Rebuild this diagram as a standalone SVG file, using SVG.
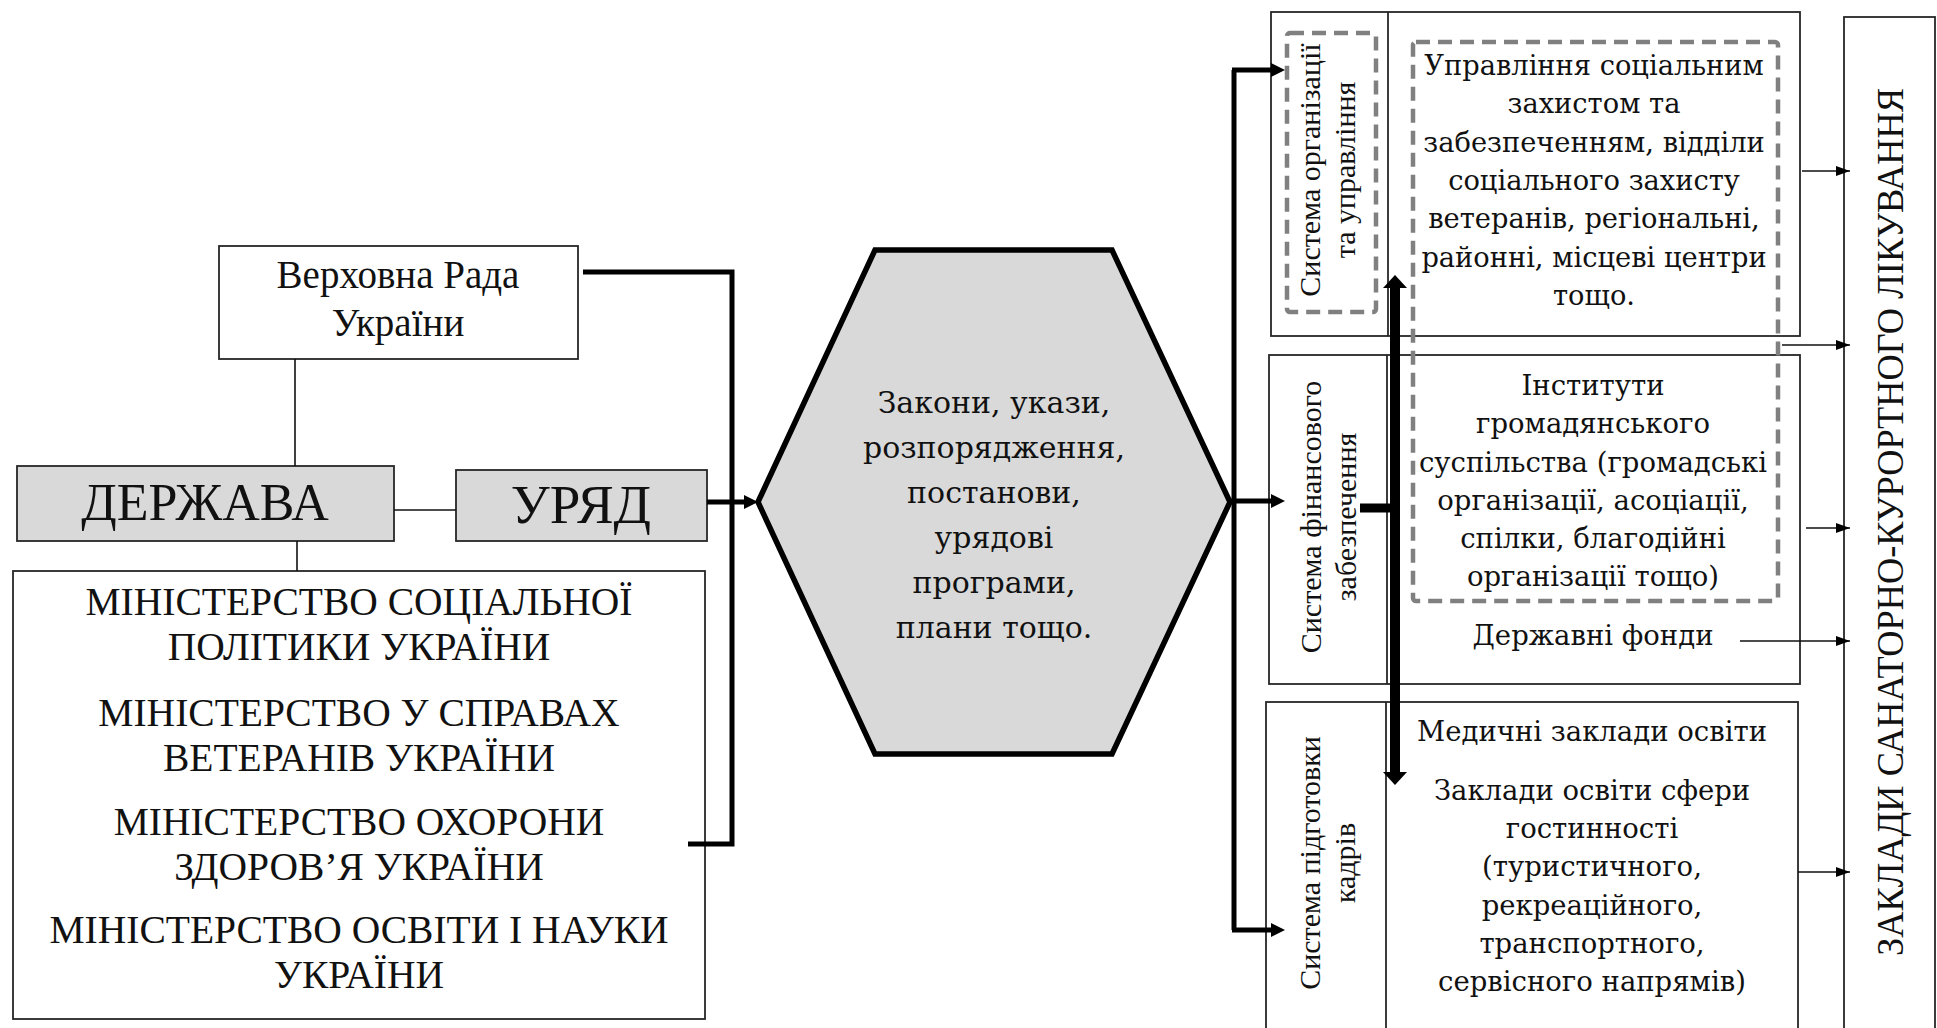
<svg xmlns="http://www.w3.org/2000/svg" width="1937" height="1028" viewBox="0 0 1937 1028">
<defs>
<style>
.box{fill:#fff;stroke:#262626;stroke-width:1.8}
.gray{fill:#d9d9d9;stroke:#262626;stroke-width:1.8}
.dash{fill:none;stroke:#808080;stroke-width:4.5;stroke-dasharray:14 8}
.t{font-family:"Liberation Serif","Times New Roman",serif;fill:#111;text-anchor:middle}
.b{font-family:"DejaVu Serif","Liberation Serif",serif;fill:#111;text-anchor:middle}
.thin{fill:none;stroke:#111;stroke-width:1.6}
.thick{fill:none;stroke:#000;stroke-width:5}
</style>
<marker id="ah" markerWidth="14" markerHeight="14" refX="4" refY="7" orient="auto" markerUnits="userSpaceOnUse"><path d="M0,0 L14,7 L0,14 z" fill="#000"/></marker>
<marker id="ahs" markerWidth="14" markerHeight="10" refX="14" refY="5" orient="auto" markerUnits="userSpaceOnUse"><path d="M0,0 L14,5 L0,10 z" fill="#000"/></marker>
<marker id="ahb" markerWidth="14" markerHeight="24" refX="1" refY="12" orient="auto-start-reverse" markerUnits="userSpaceOnUse"><path d="M0,0 L13,12 L0,24 z" fill="#000"/></marker>
</defs>
<rect width="1937" height="1028" fill="#fff"/>

<g id="verkhovna-rada">
<rect class="box" x="219" y="246" width="359" height="113"/>
<text class="t" font-size="39" x="398" y="288">Верховна Рада</text>
<text class="t" font-size="39" x="398" y="336">України</text>
</g>

<g id="derzhava">
<rect class="gray" x="17" y="466" width="377" height="75"/>
<text class="t" font-size="52" x="205" y="520">ДЕРЖАВА</text>
</g>

<g id="uriad">
<rect class="gray" x="456" y="470" width="251" height="71"/>
<text class="t" font-size="55" x="581" y="523">УРЯД</text>
</g>

<g id="ministries">
<rect class="box" x="13" y="571" width="692" height="448"/>
<text class="t" font-size="39.5" x="359" y="615">МІНІСТЕРСТВО СОЦІАЛЬНОЇ</text>
<text class="t" font-size="39.5" x="359" y="660">ПОЛІТИКИ УКРАЇНИ</text>
<text class="t" font-size="39.5" x="359" y="726">МІНІСТЕРСТВО У СПРАВАХ</text>
<text class="t" font-size="39.5" x="359" y="771">ВЕТЕРАНІВ УКРАЇНИ</text>
<text class="t" font-size="39.5" x="359" y="835">МІНІСТЕРСТВО ОХОРОНИ</text>
<text class="t" font-size="39.5" x="359" y="880">ЗДОРОВ’Я УКРАЇНИ</text>
<text class="t" font-size="39.5" x="359" y="943">МІНІСТЕРСТВО ОСВІТИ І НАУКИ</text>
<text class="t" font-size="39.5" x="359" y="988">УКРАЇНИ</text>
</g>

<g id="acts">
<polygon points="758,502 875,250 1112,250 1230,502 1112,754 875,754" fill="#d9d9d9" stroke="#000" stroke-width="5.5" stroke-linejoin="miter"/>
<text class="b" font-size="30" x="994" y="413">Закони, укази,</text>
<text class="b" font-size="30" x="994" y="458">розпорядження,</text>
<text class="b" font-size="30" x="994" y="503">постанови,</text>
<text class="b" font-size="30" x="994" y="548">урядові</text>
<text class="b" font-size="30" x="994" y="593">програми,</text>
<text class="b" font-size="30" x="994" y="638">плани тощо.</text>
</g>

<g id="org-system">
<rect class="box" x="1271" y="12" width="529" height="324"/>
<line class="box" x1="1388" y1="12" x2="1388" y2="336"/>
<rect class="dash" x="1287" y="33" width="89" height="279" rx="3"/>
<text class="t" font-size="30" transform="translate(1320,170) rotate(-90)">Система організації</text>
<text class="t" font-size="30" transform="translate(1355,170) rotate(-90)">та управління</text>
<text class="b" font-size="27.3" x="1594" y="75">Управління соціальним</text>
<text class="b" font-size="27.3" x="1594" y="113">захистом та</text>
<text class="b" font-size="27.3" x="1594" y="152">забезпеченням, відділи</text>
<text class="b" font-size="27.3" x="1594" y="190">соціального захисту</text>
<text class="b" font-size="27.3" x="1594" y="228">ветеранів, регіональні,</text>
<text class="b" font-size="27.3" x="1594" y="267">районні, місцеві центри</text>
<text class="b" font-size="27.3" x="1594" y="305">тощо.</text>
</g>

<g id="finance-system">
<rect class="box" x="1269" y="355" width="531" height="329"/>
<line class="box" x1="1387" y1="355" x2="1387" y2="684"/>
<text class="t" font-size="30" transform="translate(1321,517) rotate(-90)">Система фінансового</text>
<text class="t" font-size="30" transform="translate(1356,517) rotate(-90)">забезпечення</text>
<text class="b" font-size="27.5" x="1593" y="645">Державні фонди</text>
</g>

<g id="civil-society">
<text class="b" font-size="27.5" x="1593" y="395">Інститути</text>
<text class="b" font-size="27.5" x="1593" y="433">громадянського</text>
<text class="b" font-size="27.5" x="1593" y="472">суспільства (громадські</text>
<text class="b" font-size="27.5" x="1593" y="510">організації, асоціації,</text>
<text class="b" font-size="27.5" x="1593" y="548">спілки, благодійні</text>
<text class="b" font-size="27.5" x="1593" y="586">організації тощо)</text>
</g>

<g id="dashed-frame">
<rect class="dash" x="1413" y="42" width="365" height="559" rx="3"/>
</g>

<g id="training-system">
<rect class="box" x="1266" y="702" width="532" height="340"/>
<line class="box" x1="1386" y1="702" x2="1386" y2="1042"/>
<text class="t" font-size="30" transform="translate(1320,863) rotate(-90)">Система підготовки</text>
<text class="t" font-size="30" transform="translate(1355,863) rotate(-90)">кадрів</text>
<text class="b" font-size="27.5" x="1592" y="741">Медичні заклади освіти</text>
<text class="b" font-size="27.5" x="1592" y="800">Заклади освіти сфери</text>
<text class="b" font-size="27.5" x="1592" y="838">гостинності</text>
<text class="b" font-size="27.5" x="1592" y="876">(туристичного,</text>
<text class="b" font-size="27.5" x="1592" y="915">рекреаційного,</text>
<text class="b" font-size="27.5" x="1592" y="953">транспортного,</text>
<text class="b" font-size="27.5" x="1592" y="991">сервісного напрямів)</text>
</g>

<g id="sanatorium">
<rect class="box" x="1844" y="17" width="91" height="1025"/>
<text class="t" font-size="38" transform="translate(1903,522) rotate(-90)" textLength="868" lengthAdjust="spacingAndGlyphs">ЗАКЛАДИ САНАТОРНО-КУРОРТНОГО ЛІКУВАННЯ</text>
</g>

<g id="connectors">
<line class="thin" x1="295" y1="359" x2="295" y2="466"/>
<line class="thin" x1="394" y1="510" x2="456" y2="510"/>
<line class="thin" x1="297" y1="541" x2="297" y2="571"/>
<path class="thick" d="M583,272 H732 V844 H688"/>
<path class="thick" d="M707,502 H748" marker-end="url(#ah)"/>
<path class="thick" d="M1234,70 V930"/>
<path class="thick" d="M1232,70 H1275" marker-end="url(#ah)"/>
<path class="thick" d="M1228,501 H1275" marker-end="url(#ah)"/>
<path class="thick" d="M1232,930 H1275" marker-end="url(#ah)"/>
<path fill="none" stroke="#000" stroke-width="10" d="M1395,287 V773" marker-start="url(#ahb)" marker-end="url(#ahb)"/>
<path fill="none" stroke="#000" stroke-width="9" d="M1360,508 H1400"/>
<path class="thin" d="M1802,171 H1850" marker-end="url(#ahs)"/>
<path class="thin" d="M1782,345 H1850" marker-end="url(#ahs)"/>
<path class="thin" d="M1806,528 H1850" marker-end="url(#ahs)"/>
<path class="thin" d="M1740,641 H1850" marker-end="url(#ahs)"/>
<path class="thin" d="M1798,872 H1850" marker-end="url(#ahs)"/>
</g>
</svg>
